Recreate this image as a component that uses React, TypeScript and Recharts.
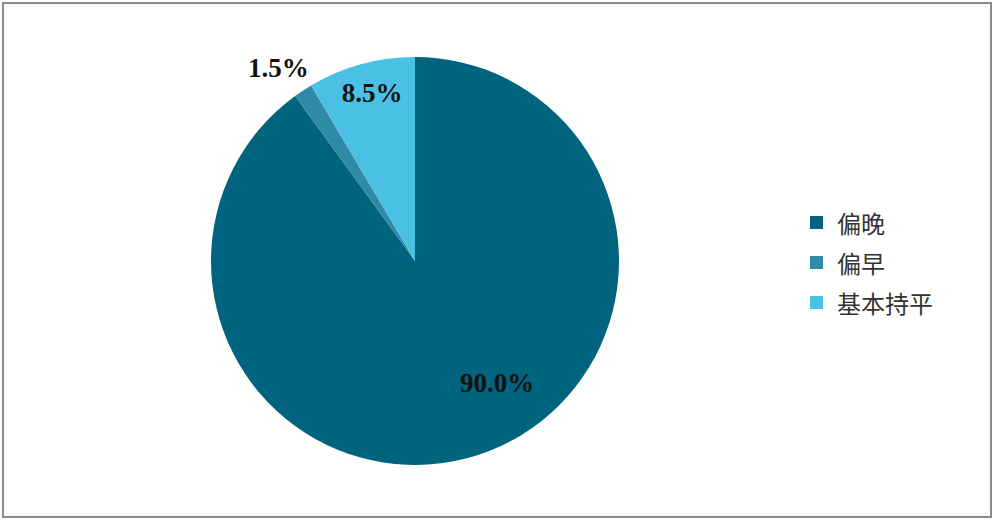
import React from 'react';
import { PieChart, Pie, Cell } from 'recharts';

// Share of responses
const categories = ['偏晚', '偏早', '基本持平'];
const shares = [90.0, 1.5, 8.5];
const colors = ['#00647F', '#2E8AA5', '#4AC1E4'];

// label placement: radius factor + angle shift (deg) per slice
const labelRadius = [0.72, 1.16, 0.85];
const labelShift = [16, 2, -1];

const data = categories.map((name, i) => ({ name, value: shares[i] }));

const RAD = Math.PI / 180;

const renderLabel = (props: any) => {
  const { cx, cy, midAngle, outerRadius, index, value } = props;
  const r = outerRadius * labelRadius[index];
  const a = (midAngle + labelShift[index]) * RAD;
  const x = cx + r * Math.cos(a);
  const y = cy - r * Math.sin(a);
  return (
    <text
      x={x}
      y={y}
      textAnchor="middle"
      dominantBaseline="central"
      fill="#111"
      style={{ fontFamily: "'Liberation Serif', serif", fontWeight: 'bold', fontSize: 27 }}
    >
      {value.toFixed(1)}%
    </text>
  );
};

const LegendBox = () => (
  <div
    style={{
      position: 'absolute',
      left: 810,
      top: 202,
      fontFamily: "'Noto Sans CJK SC', sans-serif",
      fontSize: 24,
      color: '#333',
    }}
  >
    {categories.map((c, i) => (
      <div key={c} style={{ display: 'flex', alignItems: 'center', height: 40 }}>
        <span style={{ width: 13, height: 13, background: colors[i], display: 'inline-block', marginRight: 14 }} />
        <span>{c}</span>
      </div>
    ))}
  </div>
);

export default function App() {
  return (
    <div style={{ position: 'absolute', left: 0, top: 0, width: 994, height: 524, background: '#fff' }}>
      <div
        style={{
          position: 'absolute',
          left: 2,
          top: 2,
          width: 986,
          height: 512,
          border: '2px solid #8c8c8c',
        }}
      />
      <div style={{ position: 'absolute', left: 0, top: 0 }}>
        <PieChart width={994} height={524} margin={{ top: 0, right: 0, bottom: 0, left: 0 }}>
          <Pie
            data={data}
            dataKey="value"
            nameKey="name"
            cx={415}
            cy={261}
            outerRadius={204}
            startAngle={90}
            endAngle={-270}
            stroke="none"
            label={renderLabel}
            labelLine={false}
            isAnimationActive={false}
          >
            {data.map((d, i) => (
              <Cell key={d.name} fill={colors[i]} />
            ))}
          </Pie>
        </PieChart>
      </div>
      <LegendBox />
    </div>
  );
}
